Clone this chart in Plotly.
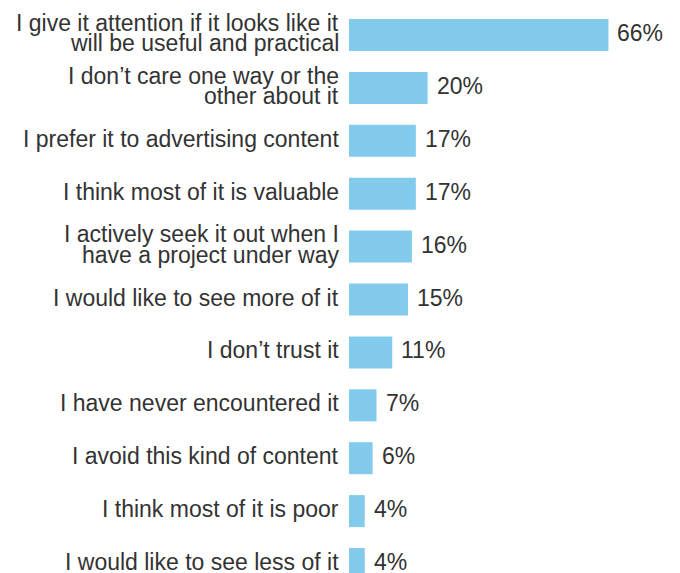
import plotly.graph_objects as go

labels = [
    "I give it attention if it looks like it<br>will be useful and practical",
    "I don’t care one way or the<br>other about it",
    "I prefer it to advertising content",
    "I think most of it is valuable",
    "I actively seek it out when I<br>have a project under way",
    "I would like to see more of it",
    "I don’t trust it",
    "I have never encountered it",
    "I avoid this kind of content",
    "I think most of it is poor",
    "I would like to see less of it",
]
values = [66, 20, 17, 17, 16, 15, 11, 7, 6, 4, 4]

BAR_COLOR = "#82CBEC"
TEXT_COLOR = "#333333"
FONT = "Liberation Sans, Arial, sans-serif"
FONT_SIZE = 23
LINE_GAP = 20.5  # tight leading between wrapped label lines

fig = go.Figure(
    go.Bar(
        x=values,
        y=labels,
        orientation="h",
        marker=dict(color=BAR_COLOR, line=dict(width=0)),
        width=0.605,
        hoverinfo="skip",
    )
)

annotations = []
for label, value in zip(labels, values):
    # category label, one annotation per line so the leading stays tight
    lines = label.split("<br>")
    n = len(lines)
    for i, line in enumerate(lines):
        annotations.append(dict(
            x=0, y=label, xref="x", yref="y",
            text=line, showarrow=False,
            xanchor="right", yanchor="middle",
            xshift=-8, yshift=((n - 1) / 2 - i) * LINE_GAP + 2,
            font=dict(size=FONT_SIZE, color=TEXT_COLOR, family=FONT),
        ))
    # value label just past the end of the bar
    annotations.append(dict(
        x=value, y=label, xref="x", yref="y",
        text=f"{value}%", showarrow=False,
        xanchor="left", yanchor="middle",
        xshift=7, yshift=2,
        font=dict(size=FONT_SIZE, color=TEXT_COLOR, family=FONT),
    ))

fig.update_layout(
    width=680,
    height=573,
    margin=dict(l=349, r=0, t=0, b=0),
    paper_bgcolor="white",
    plot_bgcolor="white",
    showlegend=False,
    font=dict(family=FONT, size=FONT_SIZE, color=TEXT_COLOR),
    xaxis=dict(range=[0, 84.2], visible=False),
    yaxis=dict(
        type="category",
        range=[10.17, -0.662],
        showgrid=False,
        showline=False,
        zeroline=False,
        ticks="",
        showticklabels=False,
    ),
    annotations=annotations,
)

fig.write_html("out.html")
